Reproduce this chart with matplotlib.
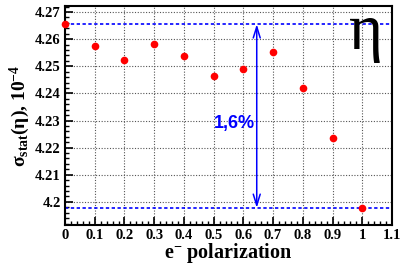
import numpy as np
import matplotlib.pyplot as plt
from matplotlib.ticker import MultipleLocator

# --- data ---
polarization = [0.0, 0.1, 0.2, 0.3, 0.4, 0.5, 0.6, 0.7, 0.8, 0.9, 1.0]
sigma_stat = [4.2655, 4.2575, 4.2523, 4.2582, 4.2539, 4.2464,
              4.2491, 4.2551, 4.2419, 4.2237, 4.1978]
y_max_line = 4.2655
y_min_line = 4.1978
arrow_x = 0.645
label_text = '1,6%'

plt.rcParams['font.family'] = ['Liberation Serif', 'DejaVu Serif']
plt.rcParams['mathtext.fontset'] = 'custom'
plt.rcParams['mathtext.rm'] = 'Liberation Serif:bold'
plt.rcParams['mathtext.bf'] = 'Liberation Serif:bold'
plt.rcParams['mathtext.it'] = 'Liberation Serif:bold'

fig = plt.figure(figsize=(4, 2.64), dpi=100)
ax = fig.add_axes([0.1625, 0.147, 0.8175, 0.83])

ax.grid(True, which='major', color='#555555', linestyle=(0, (1, 1.5)), linewidth=0.8)
ax.set_axisbelow(True)

# horizontal reference lines
ax.axhline(y_max_line, color='blue', linestyle=(0, (2, 1.5)), linewidth=1.2, zorder=2)
ax.axhline(y_min_line, color='blue', linestyle=(0, (2, 1.5)), linewidth=1.2, zorder=2)

# double arrow between the two lines
ax.annotate('', xy=(arrow_x, y_max_line), xytext=(arrow_x, y_min_line),
            arrowprops=dict(arrowstyle='<->,head_length=0.8,head_width=0.25',
                            color='blue', lw=1.1, shrinkA=0, shrinkB=0))
ax.text(0.569, 4.2289, label_text, color='blue', fontsize=13, fontweight='bold',
        family='Liberation Sans', ha='center', va='center')

ax.plot(polarization, sigma_stat, 'o', color='red', markersize=5.5,
        markeredgewidth=0, clip_on=False, zorder=3)

ax.text(1.012, 4.2565, 'η', fontsize=47, ha='center', va='baseline')

ax.set_xlim(0, 1.1)
ax.set_ylim(4.1914, 4.2722)
ax.xaxis.set_major_locator(MultipleLocator(0.1))
ax.xaxis.set_minor_locator(MultipleLocator(0.02))
ax.yaxis.set_major_locator(MultipleLocator(0.01))
ax.yaxis.set_minor_locator(MultipleLocator(0.002))
ax.xaxis.set_major_formatter(plt.FuncFormatter(lambda v, p: ('%.1f' % v).rstrip('0').rstrip('.') if v else '0'))
ax.yaxis.set_major_formatter(plt.FuncFormatter(lambda v, p: ('%.2f' % v).rstrip('0')))

ax.tick_params(which='major', direction='in', length=6, width=1.2,
               labelsize=10.5, pad=3)
ax.tick_params(which='minor', direction='in', length=3, width=1.0)
for lab in ax.get_xticklabels() + ax.get_yticklabels():
    lab.set_fontweight('bold')
for s in ax.spines.values():
    s.set_linewidth(1.5)

ax.set_xlabel('e$^{-}$ polarization', fontsize=14.5, fontweight='bold', labelpad=-1)
ax.set_ylabel('σ$_{stat}$(η), 10$^{-4}$', fontsize=14, fontweight='bold', labelpad=2)

fig.savefig('out.png', dpi=100)
